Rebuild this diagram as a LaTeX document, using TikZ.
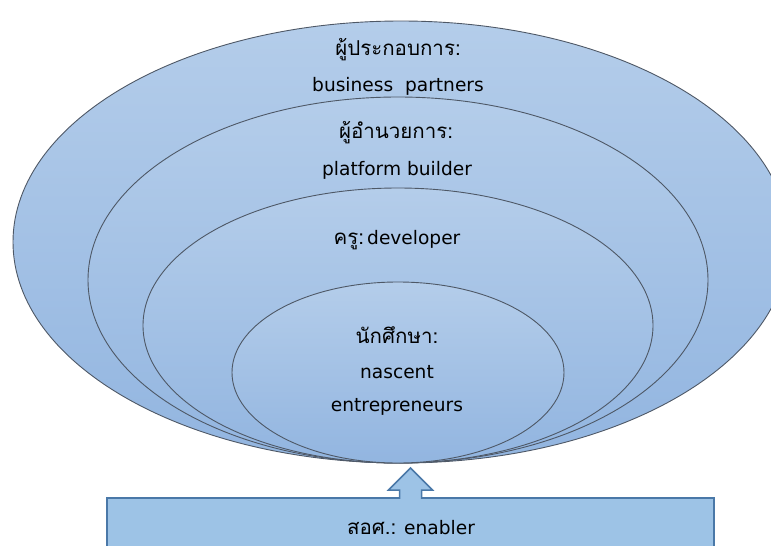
\documentclass[tikz,border=0pt]{standalone}
\usepackage{fontspec}
\setmainfont{DejaVu Sans}
\newfontfamily\thaifont[Script=Thai]{Loma}
\usetikzlibrary{shapes.geometric}
\definecolor{elltop}{HTML}{B4CDEA}
\definecolor{ellbot}{HTML}{92B5E0}
\definecolor{ellline}{HTML}{4E5866}
\definecolor{rectfill}{HTML}{9DC3E6}
\definecolor{rectline}{HTML}{4A78A8}
\newcommand{\thaitxt}[1]{{\thaifont\fontsize{20.5}{22}\selectfont #1}}
\tikzset{
  layer/.style={ellipse, draw=ellline, line width=0.9pt, top color=elltop, bottom color=ellbot, inner sep=0pt, outer sep=0pt},
  rectbox/.style={draw=rectline, line width=1.5pt, fill=rectfill, inner sep=0pt, outer sep=0pt},
  lbl/.style={font=\fontsize{18.6}{20}\selectfont, text=black, inner sep=0pt, anchor=center},
}
\begin{document}
\begin{tikzpicture}[x=1pt,y=-1pt]
\useasboundingbox (0,0) rectangle (771,546);
% nested layers
\node[layer, minimum width=776pt, minimum height=442pt] (outer) at (401,242) {};
\node[layer, minimum width=620pt, minimum height=366pt] (second) at (398,280) {};
\node[layer, minimum width=510pt, minimum height=275pt] (third) at (398,325.5) {};
\node[layer, minimum width=332pt, minimum height=181pt] (inner) at (398,372.5) {};
% labels
\node[lbl] (t1a) at (398,50) {\thaitxt{ผู้ประกอบการ:}};
\node[lbl] (t1b) at (398,86) {business\ \ partners};
\node[lbl] (t2a) at (396,133) {\thaitxt{ผู้อำนวยการ:}};
\node[lbl] (t2b) at (397,170) {platform builder};
\node[lbl] (t3) at (397,240) {\thaitxt{ครู:}\,developer};
\node[lbl] (t4a) at (397,335) {\thaitxt{นักศึกษา:}};
\node[lbl] (t4b) at (397,372) {nascent};
\node[lbl] (t4c) at (397,407) {entrepreneurs};
% enabler box
\node[rectbox, minimum width=607pt, minimum height=56pt] (enabler) at (410.5,526) {};
\node[lbl] (t5) at (411,528) {\thaitxt{สอศ.:} enabler};
% block arrow from box to inner layer
\coordinate (sl) at ([xshift=-11pt]enabler.north);
\coordinate (sr) at ([xshift=11pt]enabler.north);
\coordinate (tip) at ([yshift=30pt]enabler.north);
\fill[rectfill] ([yshift=-1.2pt]sl) -- ([yshift=8pt]sl) -- ([xshift=-11pt,yshift=8pt]sl) -- (tip)
  -- ([xshift=11pt,yshift=8pt]sr) -- ([yshift=8pt]sr) -- ([yshift=-1.2pt]sr) -- cycle;
\draw[rectline, line width=1.5pt, line join=miter] ([yshift=-0.75pt]sl) -- ([yshift=8pt]sl) -- ([xshift=-11pt,yshift=8pt]sl) -- (tip)
  -- ([xshift=11pt,yshift=8pt]sr) -- ([yshift=8pt]sr) -- ([yshift=-0.75pt]sr);
\end{tikzpicture}
\end{document}
